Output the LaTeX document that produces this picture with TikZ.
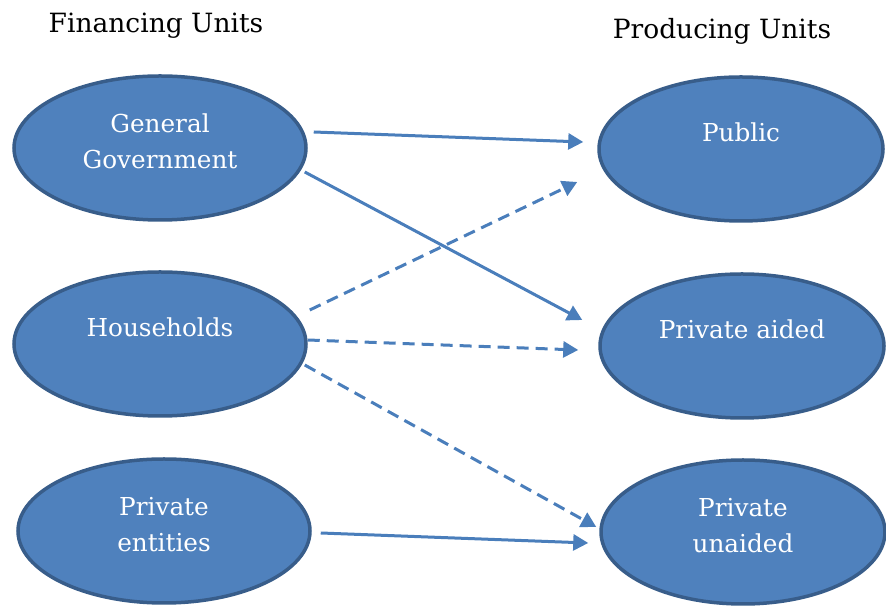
\documentclass[tikz,border=0pt]{standalone}
\usepackage{fontspec}
\setmainfont{DejaVu Serif}
\usetikzlibrary{shapes.geometric,arrows.meta}
\definecolor{unitfill}{HTML}{4F81BD}
\definecolor{unitdraw}{HTML}{385D8A}
\definecolor{flowblue}{HTML}{4A7EBB}
\begin{document}
\begin{tikzpicture}[x=1pt,y=1pt,
    unit/.style={ellipse,fill=unitfill,draw=unitdraw,line width=3.5pt,
      minimum width=292pt,minimum height=144pt,inner sep=0pt,
      text=white,align=center,font=\fontsize{24.7}{36}\selectfont},
    single/.style={text height=19pt,text depth=33pt},
    double/.style={text depth=13pt},
    head/.style={font=\fontsize{26.5}{30}\selectfont,anchor=base},
    flow/.style={flowblue,line width=3pt,-{Triangle[length=15pt,width=16pt]}},
    dashflow/.style={flow,dash pattern=on 12pt off 7pt}]
        \useasboundingbox (0,0) rectangle (886,607);
        % titles
        \node [head] (fin) at (156,574) {Financing Units};
        \node [head] (prod) at (722,568) {Producing Units};
        % financing units
        \node [unit,double] (gg) at (160,459) {General\\Government};
        \node [unit,single] (hh) at (160,263) {Households};
        \node [unit,double] (pe) at (164,76) {Private\\entities};
        % producing units
        \node [unit,single,minimum width=284pt] (pub) at (741,458) {Public};
        \node [unit,single,minimum width=284pt] (paid) at (742,261) {Private aided};
        \node [unit,double,minimum width=284pt] (pu) at (743,75) {Private\\unaided};
        % arrows
        \draw [flow] ([shift={(6pt,16pt)}]gg.east) -- ([shift={(-14pt,7pt)}]pub.west);
        \draw [flow] ([shift={(-3pt,-24pt)}]gg.east) -- ([shift={(-16pt,26pt)}]paid.west);
        \draw [dashflow] ([shift={(2pt,34pt)}]hh.east) -- ([shift={(-20pt,-33pt)}]pub.west);
        \draw [dashflow] ([shift={(0pt,4pt)}]hh.east) -- ([shift={(-20pt,-4pt)}]paid.west);
        \draw [dashflow] ([shift={(-3pt,-21pt)}]hh.east) -- ([shift={(-3pt,5pt)}]pu.west);
        \draw [flow] ([shift={(9pt,-2pt)}]pe.east) -- ([shift={(-11pt,-11pt)}]pu.west);
\end{tikzpicture}
\end{document}
